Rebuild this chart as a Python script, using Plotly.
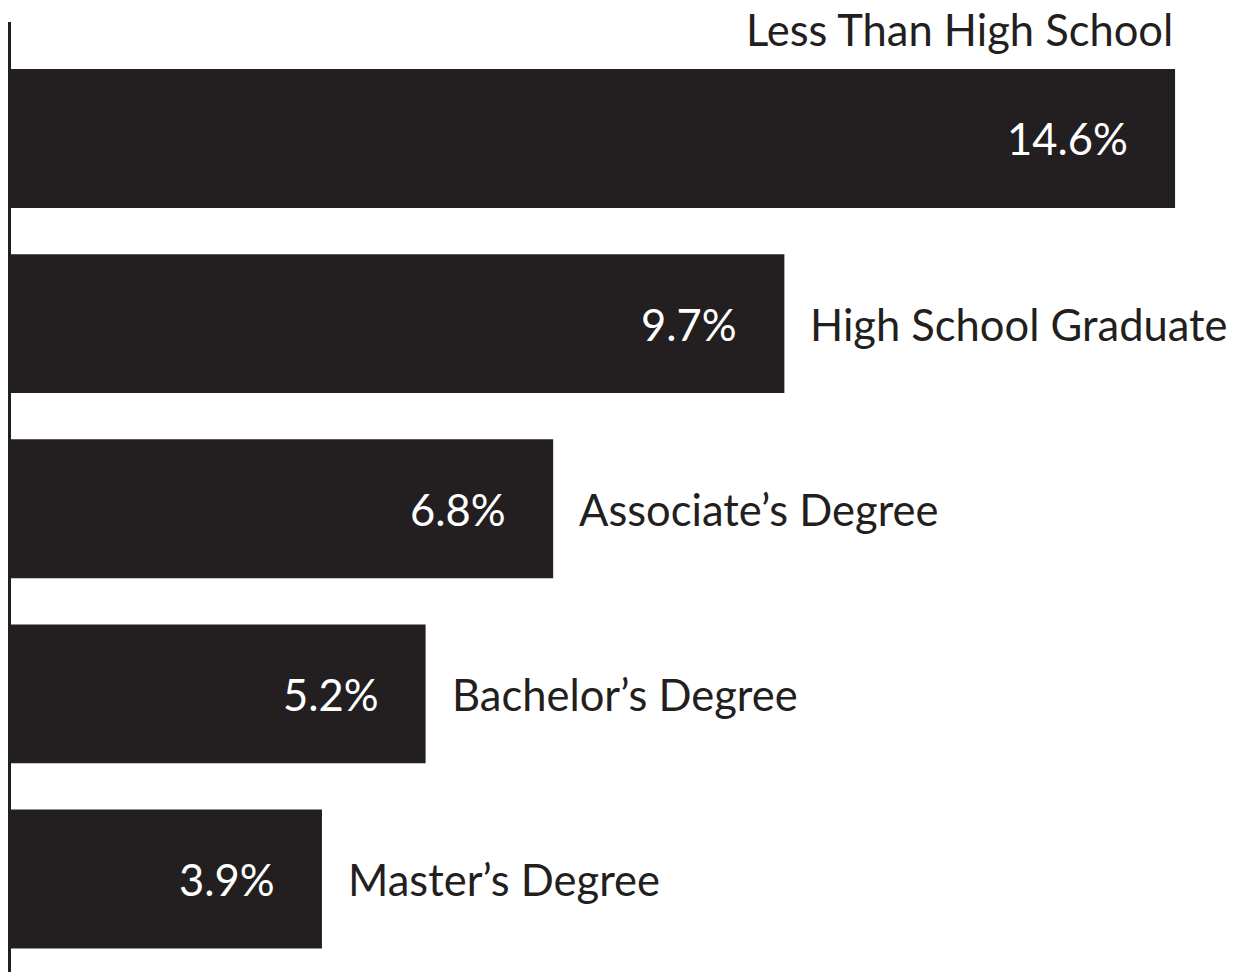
import plotly.graph_objects as go

categories = ["Less Than High School", "High School Graduate", "Associate\u2019s Degree",
              "Bachelor\u2019s Degree", "Master\u2019s Degree"]
values = [14.6, 9.7, 6.8, 5.2, 3.9]
value_labels = ["14.6%", "9.7%", "6.8%", "5.2%", "3.9%"]

DARK = "#231f20"
FONT = "Lato, 'Open Sans', sans-serif"
W, H = 1238, 972
L_MARGIN = 11
PX_PER_UNIT = 79.73
FS = 43.5

fig = go.Figure(go.Bar(
    x=values, y=categories, orientation="h",
    marker=dict(color=DARK, line=dict(width=0)),
    width=0.75, hoverinfo="skip",
))

annotations = []
for i, (c, v, t) in enumerate(zip(categories, values, value_labels)):
    annotations.append(dict(x=v, y=c, xref="x", yref="y", text=t, showarrow=False,
                            xanchor="right", yanchor="middle", xshift=-45,
                            font=dict(family=FONT, size=FS, color="white")))
    if i == 0:
        annotations.append(dict(x=v, y=c, xref="x", yref="y", text=c, showarrow=False,
                                xanchor="right", yanchor="middle", xshift=0, yshift=109,
                                font=dict(family=FONT, size=FS, color=DARK)))
    else:
        annotations.append(dict(x=v, y=c, xref="x", yref="y", text=c, showarrow=False,
                                xanchor="left", yanchor="middle", xshift=24,
                                font=dict(family=FONT, size=FS, color=DARK)))

fig.update_layout(
    width=W, height=H,
    margin=dict(l=L_MARGIN, r=0, t=22, b=0),
    paper_bgcolor="white", plot_bgcolor="white",
    showlegend=False,
    annotations=annotations,
    xaxis=dict(range=[0, (W - L_MARGIN) / PX_PER_UNIT], visible=False, fixedrange=True),
    yaxis=dict(categoryorder="array", categoryarray=categories,
               range=[4.502, -0.629], showticklabels=False, ticks="",
               showgrid=False, zeroline=False,
               showline=True, linecolor=DARK, linewidth=3, fixedrange=True),
)

fig.write_html("out.html", config={"displayModeBar": False})
